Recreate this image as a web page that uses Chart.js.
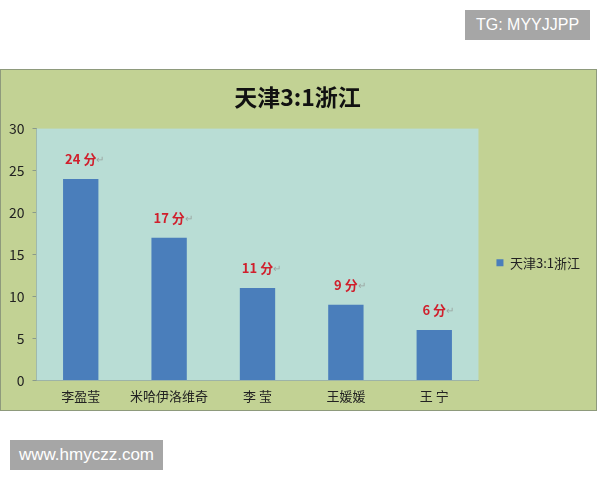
<!DOCTYPE html>
<html>
<head>
<meta charset="utf-8">
<script src="https://cdn.jsdelivr.net/npm/chart.js@4"></script>
<style>
body{margin:0;background:#fff;width:600px;height:480px;position:relative;overflow:hidden;font-family:"Noto Sans CJK SC",sans-serif}
.box{position:absolute;left:0;top:69px;width:595px;height:340px;background:#c2d294;border:1px solid #8e9a7c}
.mark{position:absolute;background:#a6a6a6;color:#fff;font-family:"Liberation Sans",Arial,sans-serif;font-size:16px;line-height:30px;text-align:center}
</style>
</head>
<body>
<div class="box"><canvas id="barChart" width="595" height="340"></canvas></div>
<div class="mark" style="left:465px;top:10px;width:125px">TG: MYYJJPP</div>
<div class="mark" style="left:10px;top:440px;width:153px;font-size:17px">www.hmyczz.com</div>
<script>
const title = '天津3:1浙江'
const players = ['李盈莹', '米哈伊洛维奇', '李 莹', '王媛媛', '王 宁']
const points = [24, 17, 11, 9, 6]
const yMin = 0, yMax = 30, yStep = 5

const cjk = '"Noto Sans CJK SC", sans-serif'

// light plot background
const plotBg = {
  id: 'plotBg',
  beforeDatasetsDraw(chart) {
    const a = chart.chartArea, c = chart.ctx
    c.save()
    c.fillStyle = '#b9ddd5'
    c.fillRect(a.left, a.top, a.right - a.left, a.bottom - a.top)
    c.restore()
  }
}

// nudge legend and title a bit further right
const nudge = {
  id: 'nudge',
  afterLayout(chart) {
    chart.legend.left += 8
    chart.legend.right += 8
    chart.titleBlock.left += 6
    chart.titleBlock.right += 6
  }
}

// "24 分↵" labels above the bars
const barLabels = {
  id: 'barLabels',
  afterDatasetsDraw(chart) {
    const c = chart.ctx
    const meta = chart.getDatasetMeta(0)
    c.save()
    meta.data.forEach((bar, i) => {
      const txt = points[i] + ' 分'
      c.font = 'bold 13px ' + cjk
      c.fillStyle = '#d01f2c'
      c.textAlign = 'center'
      c.textBaseline = 'middle'
      const y = bar.y - 20
      c.fillText(txt, bar.x, y)
      const w = c.measureText(txt).width
      c.font = '10px ' + cjk
      c.fillStyle = '#9aa4a0'
      c.textAlign = 'left'
      c.fillText('↵', bar.x + w / 2, y)
    })
    c.restore()
  }
}

const ctx = document.getElementById('barChart')
new Chart(ctx, {
  type: 'bar',
  data: {
    labels: players,
    datasets: [{
      label: title,
      data: points,
      backgroundColor: '#4a7ebb',
      barPercentage: 0.8,
      categoryPercentage: 0.5
    }]
  },
  options: {
    responsive: false,
    animation: false,
    layout: {
      padding: {left: 0, right: 14, top: 10, bottom: 3}
    },
    plugins: {
      title: {
        display: true,
        text: title,
        color: '#111',
        font: {family: cjk, size: 23, weight: 'bold'},
        padding: {top: 3, bottom: 18}
      },
      legend: {
        position: 'right',
        title: {display: true, text: ' ', font: {size: 12}, padding: {top: 12, bottom: 12}},
        labels: {
          boxWidth: 7,
          boxHeight: 7,
          padding: 10,
          color: '#222',
          font: {family: cjk, size: 13}
        }
      },
      tooltip: {enabled: false}
    },
    scales: {
      x: {
        grid: {display: false, drawTicks: true, tickLength: 5, offset: true, color: '#8a9a8a'},
        border: {color: '#8a9a8a'},
        ticks: {color: '#222', font: {family: cjk, size: 13}, padding: 3}
      },
      y: {
        min: yMin,
        max: yMax,
        ticks: {stepSize: yStep, color: '#222', font: {family: cjk, size: 14}, padding: 8},
        grid: {drawOnChartArea: false, tickLength: 4, color: '#8a9a8a'},
        border: {color: '#8a9a8a'}
      }
    }
  },
  plugins: [plotBg, nudge, barLabels]
})
</script>
</body>
</html>
